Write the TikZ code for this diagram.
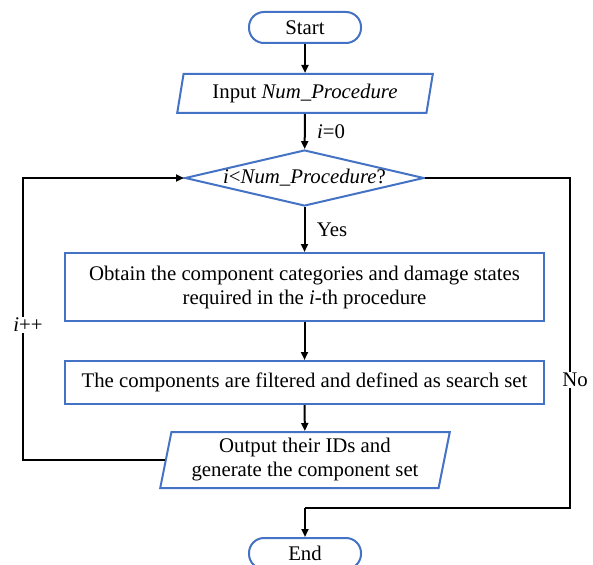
\documentclass[tikz,border=0pt]{standalone}
\usepackage{fontspec}
\setmainfont{Liberation Serif}
\usetikzlibrary{shapes.geometric,arrows.meta}
\definecolor{boxblue}{HTML}{4472C4}
\begin{document}
\begin{tikzpicture}[
x=1pt, y=-1pt,
font=\fontsize{20.8}{24}\selectfont,
termnode/.style={draw=boxblue, line width=2pt, rounded corners=15pt, minimum width=112pt, minimum height=31pt, inner sep=0pt},
ionode/.style={draw=boxblue, line width=2pt, trapezium, trapezium stretches=true, align=center, inner sep=0pt},
decnode/.style={draw=boxblue, line width=2pt, diamond, aspect=4.27, inner sep=0pt, minimum width=239pt, minimum height=56pt},
procnode/.style={draw=boxblue, line width=2pt, rectangle, align=center, minimum width=479pt, inner sep=0pt},
arrowline/.style={line width=2pt, -{Triangle[length=8pt,width=7pt]}},
plainline/.style={line width=2pt},
]
    \useasboundingbox (0,0) rectangle (593,564);
    % flow boxes
    \node[termnode](start) at (305,27.5) {Start};
    \node[ionode, trapezium left angle=75.6, trapezium right angle=104.4, minimum width=256pt, minimum height=39pt](input) at (305,93.5) {Input \textit{Num\_Procedure}};
    \node[decnode](cond) at (304.5,178) {\textit{i}<\textit{Num\_Procedure}?};
    \node[procnode, minimum height=68pt](obtain) at (304.5,287) {Obtain the component categories and damage states\\required in the \textit{i}-th procedure};
    \node[procnode, minimum height=43pt](filter) at (304.5,382.5) {The components are filtered and defined as search set};
    \node[ionode, trapezium left angle=77.5, trapezium right angle=102.5, minimum width=290pt, minimum height=56pt](output) at (305,460) {Output their IDs and\\generate the component set};
    \node[termnode](end) at (305,553.5) {End};
    % loop corners
    \coordinate (loopL) at (23,325);
    \coordinate (loopR) at (570,380);
    \coordinate (join) at (305,508);
    % connectors
    \draw[arrowline] (start) -- (input);
    \draw[arrowline] (input) -- node[right, xshift=8pt] {\textit{i}=0} (cond);
    \draw[arrowline] (cond) -- node[right, xshift=8pt] {Yes} (obtain);
    \draw[arrowline] (obtain) -- (filter);
    \draw[arrowline] (filter) -- (output);
    \draw[arrowline] (output.west) -| (loopL) node[fill=white, inner sep=1pt, xshift=5pt] {\textit{i}++} |- (cond.west);
    \draw[plainline] (cond.east) -| (loopR) node[fill=white, inner sep=1pt, xshift=5pt] {No} |- (join);
    \draw[arrowline] (join) -- (end);
\end{tikzpicture}
\end{document}
